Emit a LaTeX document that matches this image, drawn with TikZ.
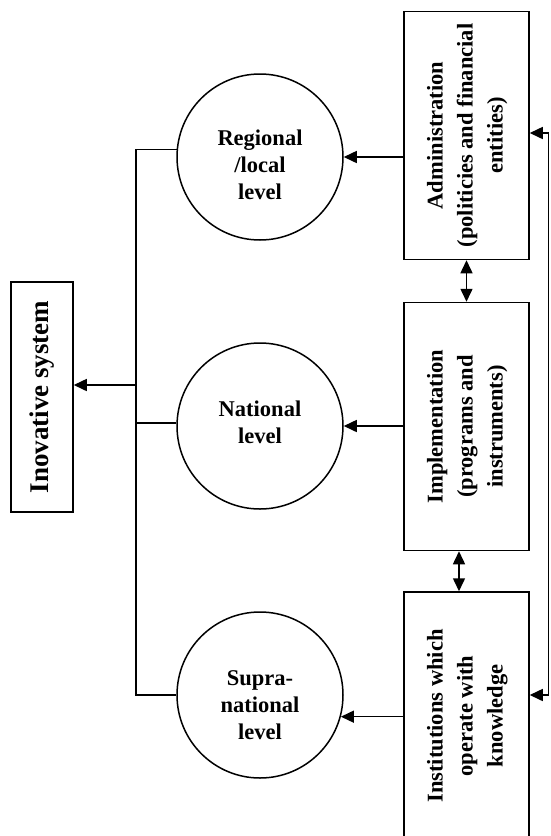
\documentclass[tikz,border=0pt]{standalone}
\usepackage{fontspec}
\setmainfont{Liberation Serif}
\usetikzlibrary{arrows.meta,calc}
\newcommand{\lines}[1]{\begin{tabular}{@{}c@{}}#1\end{tabular}}
\begin{document}
\begin{tikzpicture}[x=1pt,y=-1pt,
  every path/.style={line width=1.5pt},
  tip/.tip={Triangle[length=13pt,width=12pt]},
  lvl/.style={circle,draw,line width=1.5pt,minimum size=166pt,inner sep=0pt},
  lvltext/.style={font=\bfseries\fontsize{22.5}{27}\selectfont,align=center,inner sep=0pt},
  bx/.style={draw,line width=1.5pt,minimum width=125pt,minimum height=248pt,inner sep=0pt,
    font=\bfseries\fontsize{22.5}{30}\selectfont},
  inov/.style={draw,line width=1.5pt,minimum width=62pt,minimum height=230pt,inner sep=0pt,
    font=\bfseries\fontsize{27}{32}\selectfont}]
\useasboundingbox (0,0) rectangle (550,836);
% rectangles
\node[bx] (adm) at (466.5,135.5) {\rotatebox{90}{\lines{Administration\\(politicies and financial\\entities)}}};
\node[bx] (imp) at (466.5,426.5) {\rotatebox{90}{\lines{Implementation\\(programs and\\instruments)}}};
\node[bx] (ins) at (466.5,716) {\rotatebox{90}{\lines{Institutions which\\operate with\\knowledge}}};
% circles
\node[lvl] (reg) at (260,157) {};
\node[lvltext] (regt) at (260,165) {Regional\\/local\\level};
\node[lvl] (nat) at (260,426) {};
\node[lvltext] (natt) at (260,422) {National\\level};
\node[lvl] (sup) at (260,695) {};
\node[lvltext] (supt) at (260,705) {Supra-\\national\\level};
% inovative system
\node[inov] (inv) at (42,397) {\rotatebox{90}{Inovative system}};
% left tree
\coordinate (t1) at (136,150);
\coordinate (t2) at (136,696);
\coordinate (tm) at (136,385);
\draw (reg.175) -- (t1 |- reg.175) -- (t2 |- sup.west) -- (sup.west);
\draw (t1 |- nat.178) -- (nat.178);
\draw[-tip] (tm) -- (inv.east |- tm);
% rect to circles
\draw[-tip] (adm.west |- reg.east) -- (reg.east);
\draw[-tip] (imp.west |- nat.east) -- (nat.east);
\draw[-tip] (ins.west |- sup.-15) -- (sup.-15);
% between rectangles
\draw[tip-tip] (adm.south) -- (imp.north);
\draw[tip-tip] ([xshift=-7.5pt]imp.south) -- ([xshift=-7.5pt]ins.north);
% feedback
\coordinate (f1) at (548.5,133);
\coordinate (f2) at (548.5,695);
\draw[tip-tip] (adm.east |- f1) -- (f1) -- (f2) -- (ins.east |- f2);
\end{tikzpicture}
\end{document}
